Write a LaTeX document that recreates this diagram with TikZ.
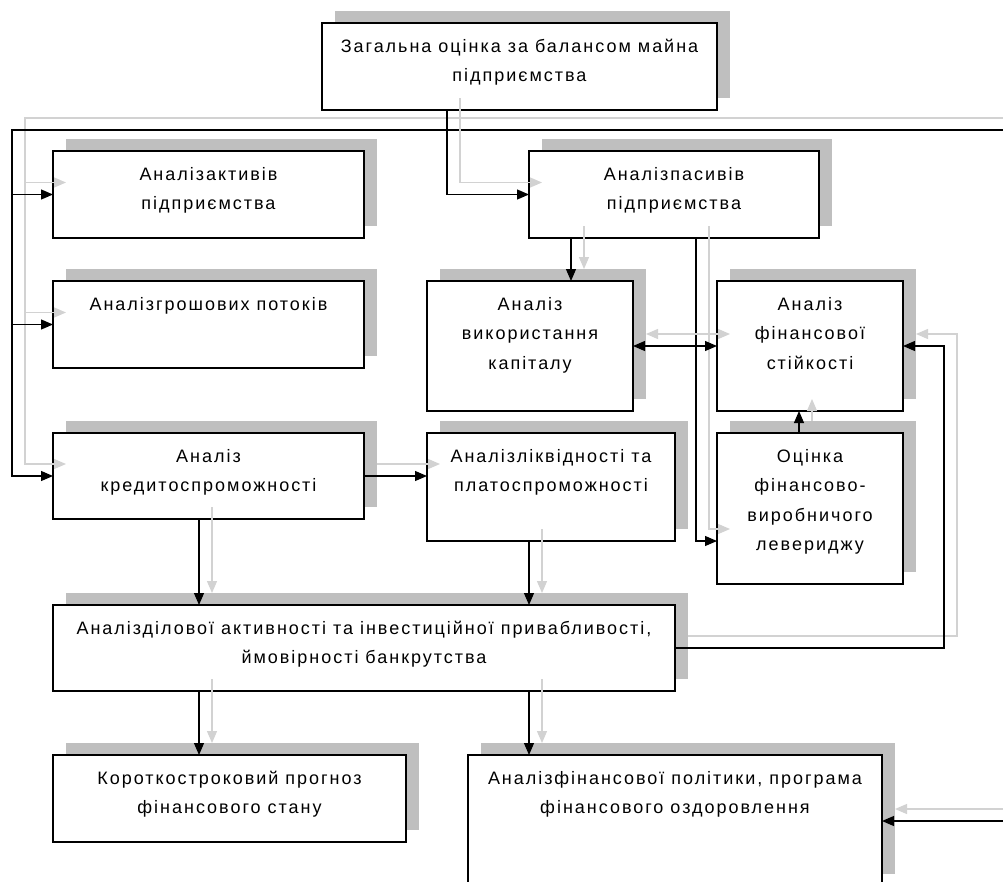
\documentclass[tikz,border=0pt]{standalone}
\usepackage{fontspec}
\setmainfont[LetterSpace=11]{Liberation Sans}
\usetikzlibrary{arrows.meta,backgrounds}
\definecolor{shd}{RGB}{191,191,191}
\definecolor{lgray}{RGB}{210,210,210}
\newcommand\boxtxt[3]{\parbox[t][#2pt][t]{#1pt}{\centering\baselineskip=29.5pt\rule{0pt}{29pt}#3\par}}
\newcommand\conn[2][]{%
  \draw[lgray,line width=1.2pt,#1,transform canvas={shift={(13pt,12pt)}}] #2;
  \draw[black,line width=1.2pt,#1] #2;}
\begin{document}
\begin{tikzpicture}[x=1pt,y=-1pt,
  box/.style={draw,fill=white,line width=1.2pt,inner sep=0pt,outer sep=0pt,
    anchor=north west,font=\fontsize{18}{29.5}\selectfont},
  arr/.style={-{Triangle[length=12pt,width=10pt]}},
  darr/.style={{Triangle[length=12pt,width=10pt]}-{Triangle[length=12pt,width=10pt]}}]
\useasboundingbox (0,0) rectangle (1003,881);
\clip (0,0) rectangle (1003,881);
% boxes
\node[box] (T) at (322,23) {\boxtxt{395}{87}{Загальна оцінка за балансом майна\\підприємства}};
\node[box] (A) at (53,151) {\boxtxt{311}{87}{Аналізактивів\\підприємства}};
\node[box] (B) at (529,151) {\boxtxt{290}{87}{Аналізпасивів\\підприємства}};
\node[box] (C) at (53,281) {\boxtxt{311}{87}{Аналізгрошових потоків}};
\node[box] (D) at (427,281) {\boxtxt{206}{130}{Аналіз\\використання\\капіталу}};
\node[box] (E) at (717,281) {\boxtxt{186}{130}{Аналіз\\фінансової\\стійкості}};
\node[box] (F) at (53,433) {\boxtxt{311}{86}{Аналіз\\кредитоспроможності}};
\node[box] (G) at (427,433) {\boxtxt{248}{108}{Аналізліквідності та\\платоспроможності}};
\node[box] (H) at (717,433) {\boxtxt{186}{151}{Оцінка\\фінансово-\\виробничого\\левериджу}};
\node[box] (I) at (53,605) {\boxtxt{622}{86}{Аналізділової активності та інвестиційної привабливості,\\ймовірності банкрутства}};
\node[box] (J) at (53,755) {\boxtxt{353}{87}{Короткостроковий прогноз\\фінансового стану}};
\node[box] (K) at (468,755) {\boxtxt{414}{131}{Аналізфінансової політики, програма\\фінансового оздоровлення}};
% shadows
\begin{scope}[on background layer]
  \fill[white] (0,0) rectangle (1003,881);
  \foreach \n in {T,A,B,C,D,E,F,G,H,I,J,K}
    \fill[shd] ([shift={(13,-12)}]\n.south west) rectangle ([shift={(13,-12)}]\n.north east);
\end{scope}
% coordinates
\coordinate (busR) at (1003,130);
\coordinate (bus) at (12,130);
\coordinate (kR) at (1003,821);
\coordinate (x447) at (447,0);
\coordinate (x571) at (571,0);
\coordinate (c4) at (696,541);
\coordinate (x799) at (799,0);
\coordinate (x199) at (199,0);
\coordinate (x529) at (529,0);
\coordinate (rv) at (944,500);
% connectors
\conn[arr]{(busR) -- (bus) |- (F.west)}
\conn[arr]{(bus |- A.west) -- (A.west)}
\conn[arr]{(bus |- C.west) -- (C.west)}
\conn[arr]{(T.south -| x447) |- (B.west)}
\conn[arr]{(B.south -| x571) -- (D.north -| x571)}
\conn[arr]{(B.south -| c4) -- (c4) -- (H.west |- c4)}
\conn[darr]{(D.east) -- (E.west)}
\conn[arr]{(H.north -| x799) -- (E.south -| x799)}
\conn[arr]{(I.east) -| (rv) |- (E.east)}
\conn[arr]{(F.east) -- (G.west |- F.east)}
\conn[arr]{(F.south -| x199) -- (I.north -| x199)}
\conn[arr]{(G.south -| x529) -- (I.north -| x529)}
\conn[arr]{(I.south -| x199) -- (J.north -| x199)}
\conn[arr]{(I.south -| x529) -- (K.north -| x529)}
\conn[arr]{(kR) -- (K.east |- kR)}
\end{tikzpicture}
\end{document}
